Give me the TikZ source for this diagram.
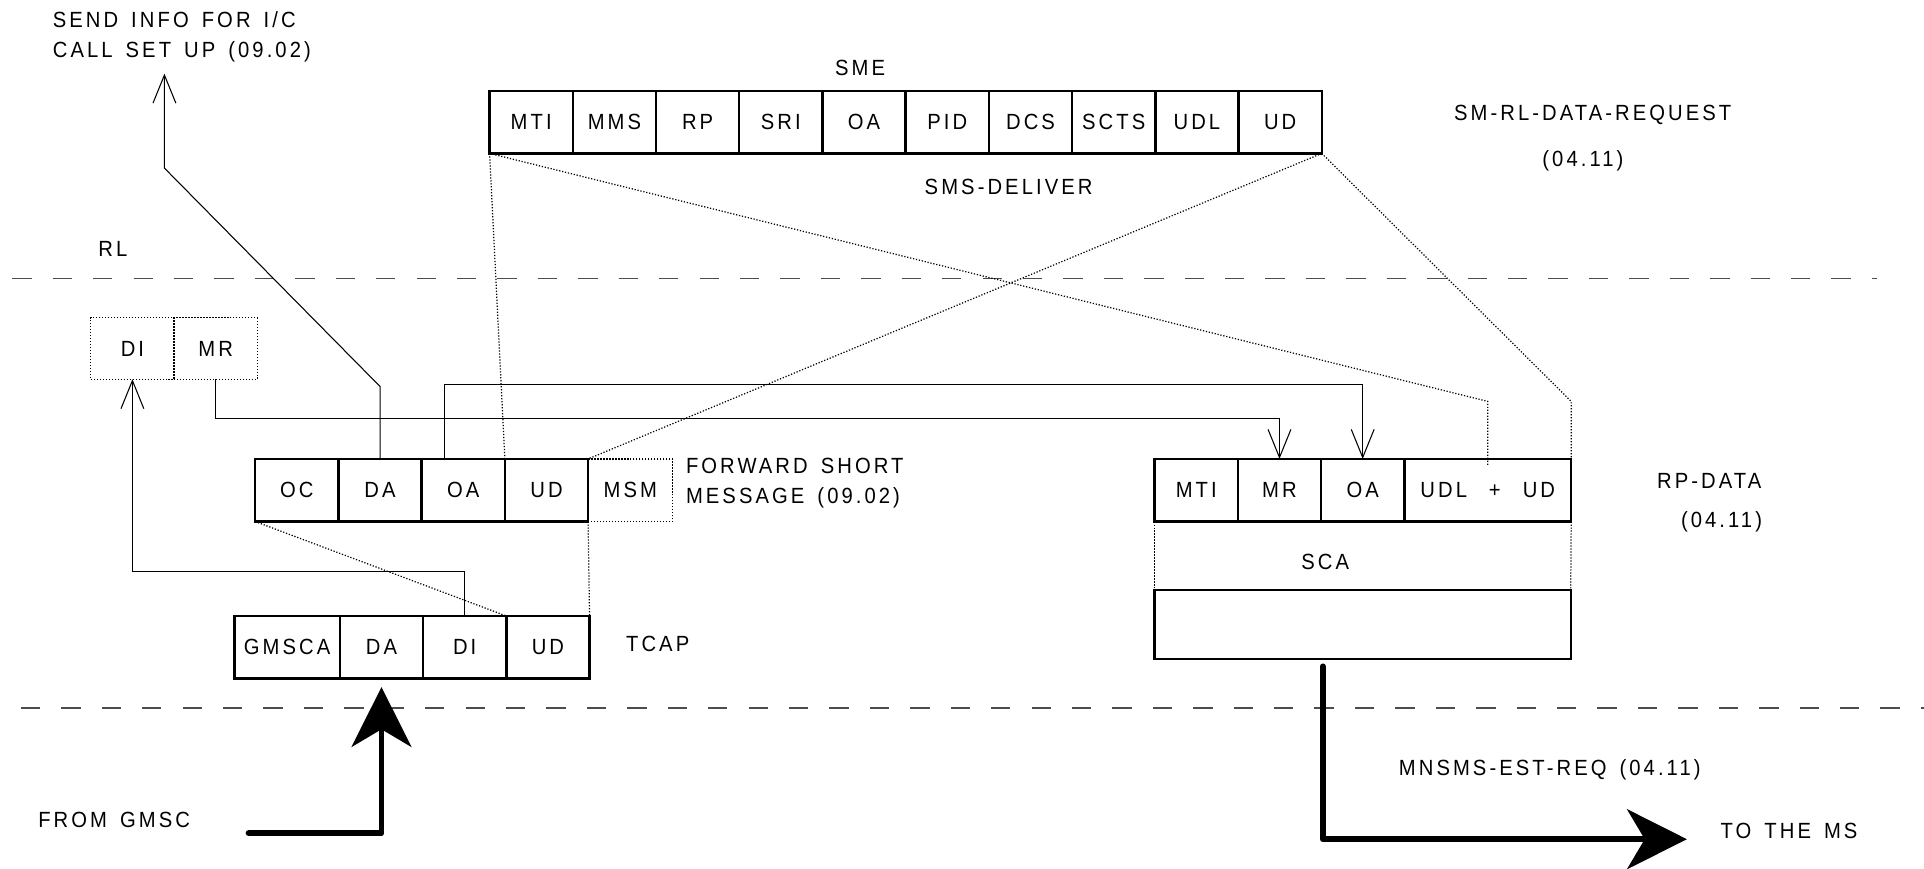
\documentclass[tikz,border=0pt]{standalone}
\usepackage{fontspec}
\setmainfont{Liberation Sans}[FakeStretch=0.92,LetterSpace=14,WordSpace=1.5]
\usetikzlibrary{arrows.meta,positioning}
\tikzset{
  cell/.style={draw,line width=1.4pt,minimum width=1.664cm,minimum height=1.252cm,
    inner sep=0pt,outer sep=0pt},
  dotcell/.style={cell,line width=0.7pt,dash pattern=on 0.7pt off 1pt},
  wire/.style={line width=0.6pt},
  wirearrow/.style={wire,-{Straight Barb[length=16pt,width=13pt]}},
  dots/.style={line width=0.7pt,dash pattern=on 0.7pt off 1pt},
  layerline/.style={gray!60!black,line width=0.8pt,dash pattern=on 11pt off 12pt},
  bigarrow/.style={line width=3.4pt,line cap=round,line join=round,
    -{Stealth[length=34pt,width=34pt,inset=10pt]}}
}

\begin{document}
\begin{tikzpicture}[x=0.02454cm,y=-0.02454cm,font=\fontsize{12.5}{17}\selectfont]
  \useasboundingbox (0,0) rectangle (1568,708);

  % layer boundaries
  \draw[layerline] (10,227) -- (1530,227);
  \draw[layerline] (17,577) -- (1568,577);

  % SMS-DELIVER
  \node[cell,anchor=north west] (sMTI) at (399,74) {MTI};
  \node[cell,right=0pt of sMTI] (sMMS) {MMS};
  \node[cell,right=0pt of sMMS] (sRP) {RP};
  \node[cell,right=0pt of sRP] (sSRI) {SRI};
  \node[cell,right=0pt of sSRI] (sOA) {OA};
  \node[cell,right=0pt of sOA] (sPID) {PID};
  \node[cell,right=0pt of sPID] (sDCS) {DCS};
  \node[cell,right=0pt of sDCS] (sSCTS) {SCTS};
  \node[cell,right=0pt of sSCTS] (sUDL) {UDL};
  \node[cell,right=0pt of sUDL] (sUD) {UD};

  % DI / MR
  \node[dotcell,anchor=north west,minimum height=1.227cm] (dDI) at (74,259) {DI};
  \node[dotcell,right=0pt of dDI,minimum height=1.227cm] (dMR) {MR};

  % forward short message
  \node[cell,anchor=north west] (fOC) at (208,374) {OC};
  \node[cell,right=0pt of fOC] (fDA) {DA};
  \node[cell,right=0pt of fDA] (fOA) {OA};
  \node[cell,right=0pt of fOA] (fUD) {UD};
  \node[dotcell,right=0pt of fUD,minimum width=1.69cm] (fMSM) {MSM};

  % TCAP
  \node[cell,anchor=north west,minimum width=2.11cm] (tGMSCA) at (191,502) {GMSCA};
  \node[cell,right=0pt of tGMSCA] (tDA) {DA};
  \node[cell,right=0pt of tDA] (tDI) {DI};
  \node[cell,right=0pt of tDI] (tUD) {UD};

  % RP-DATA
  \node[cell,anchor=north west] (rMTI) at (941,374) {MTI};
  \node[cell,right=0pt of rMTI] (rMR) {MR};
  \node[cell,right=0pt of rMR] (rOA) {OA};
  \node[cell,right=0pt of rOA,minimum width=3.337cm] (rUD) {UDL\quad+\quad UD};
  \node[cell,anchor=north west,minimum width=8.32cm,minimum height=1.374cm] (rSCA)
    at ([yshift=-1.374cm]rMTI.south west) {};

  % labels
  \node (sme) at (701,55) {SME};
  \node (smsdeliver) at (822,152) {SMS-DELIVER};
  \node (rlreq) at (1298,94) {SM-RL-DATA-REQUEST};
  \node (rlreqref) at (1290,131) {(04.11)};
  \node (rl) at (92,203) {RL};
  \node[anchor=west,align=left] (sendinfo) at (38,30) {SEND INFO FOR I/C\\CALL SET UP (09.02)};
  \node[anchor=west,align=left] (fsm) at (554,394) {FORWARD SHORT\\MESSAGE (09.02)};
  \node (tcap) at (536,525) {TCAP};
  \node (rpdata) at (1393,392) {RP-DATA};
  \node (rpref) at (1403,425) {(04.11)};
  \node (sca) at (1080,458) {SCA};
  \node (mnsms) at (1263,627) {MNSMS-EST-REQ (04.11)};
  \node (toms) at (1458,677) {TO THE MS};
  \node (gmsc) at (93,668) {FROM GMSC};

  % parameter mapping
  \coordinate (sendtip) at (134,60);
  \draw[wirearrow] (fDA.north) -- ++(0,-59) -- (134,137) -- (sendtip);
  \draw[wirearrow] (tDI.north) -- ++(0,-36) -| (dDI.south);
  \draw[wirearrow] (dMR.south) -- ++(0,32) -| (rMR.north);
  \draw[wirearrow] ([xshift=-0.38cm]fOA.north) -- ++(0,-61) -| (rOA.north);

  \draw[dots] (sMTI.south west) -- (fUD.north west);
  \draw[dots] (sMTI.south west) -- ([yshift=1.15cm]rUD.north) -- ([yshift=-0.15cm]rUD.north);
  \draw[dots] (sUD.south east) -- (fUD.north east);
  \draw[dots] (sUD.south east) -- ([yshift=1.15cm]rUD.north east) -- (rUD.north east);
  \draw[dots] (fOC.south west) -- (tUD.north west);
  \draw[dots] (fUD.south east) -- (tUD.north east);
  \draw[dots] (rMTI.south west) -- (rSCA.north west);
  \draw[dots] (rUD.south east) -- (rSCA.north east);

  % in and out
  \draw[bigarrow] ([xshift=1.05cm,yshift=-0.27cm]gmsc.east) -| ([yshift=-0.17cm]tDA.south);
  \draw[bigarrow] ([xshift=-0.8cm,yshift=-0.15cm]rSCA.south) |- ([xshift=-0.55cm,yshift=-0.17cm]toms.west);
\end{tikzpicture}
\end{document}
